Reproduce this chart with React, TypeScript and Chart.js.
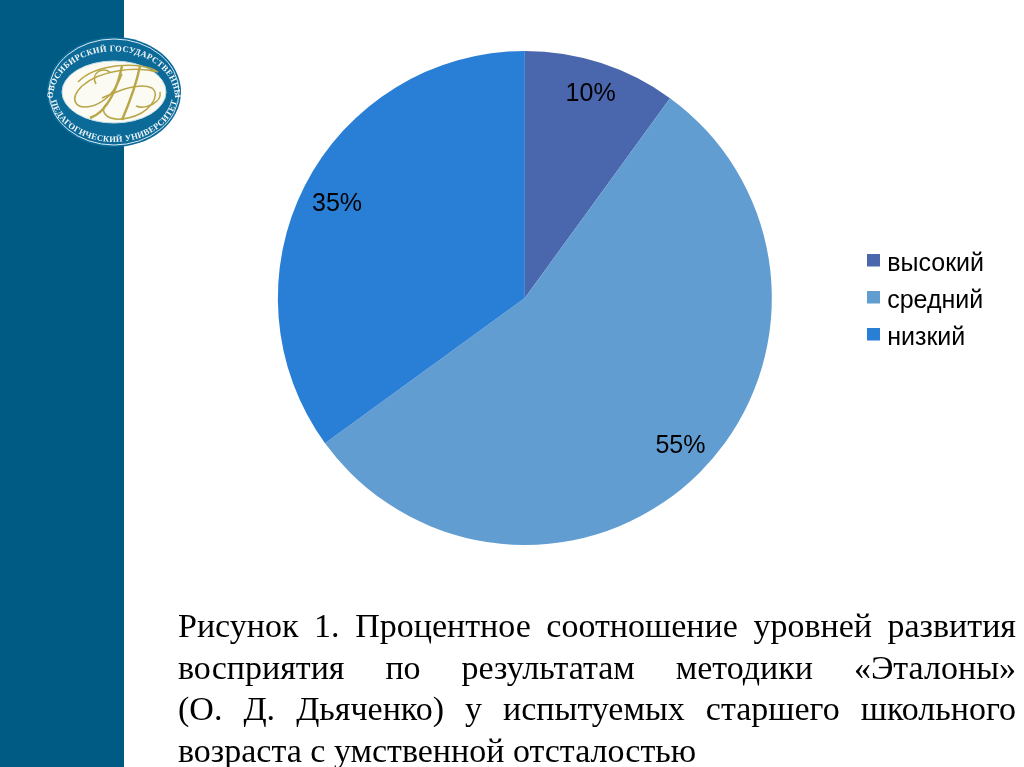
import React, { useEffect, useRef } from "react";
import { Chart, registerables } from "chart.js";

Chart.register(...registerables);

const categories = ["высокий", "средний", "низкий"];
const shares = [10, 55, 35];
const sliceColors = ["#4A66AC", "#629DD1", "#297FD5"];
const captionLines = [
  "Рисунок 1. Процентное соотношение уровней развития",
  "восприятия по результатам методики «Эталоны»",
  "(О. Д. Дьяченко) у испытуемых старшего школьного",
  "возраста с умственной отсталостью",
];

const FONT = "'Liberation Sans', Arial, sans-serif";

function swatch(color: string) {
  const c = document.createElement("canvas");
  c.width = 13;
  c.height = 21;
  const g = c.getContext("2d")!;
  g.fillStyle = color;
  g.fillRect(0, 0, 13, 13);
  return c;
}

const sliceLabels = {
  id: "sliceLabels",
  afterDatasetsDraw(chart: any) {
    const { ctx } = chart;
    const values = chart.data.datasets[0].data;
    const factors = [0.875, 0.862, 0.858];
    const nudgeX = [-1, 5, 1];
    const nudgeY = [2, -2, 2];
    chart.getDatasetMeta(0).data.forEach((arc: any, i: number) => {
      const mid = (arc.startAngle + arc.endAngle) / 2;
      const r = arc.outerRadius * factors[i];
      ctx.save();
      ctx.font = `25px ${FONT}`;
      ctx.fillStyle = "#000";
      ctx.textAlign = "center";
      ctx.textBaseline = "middle";
      ctx.fillText(`${values[i]}%`, arc.x + Math.cos(mid) * r + nudgeX[i], arc.y + Math.sin(mid) * r + nudgeY[i]);
      ctx.restore();
    });
  },
};

function Logo() {
  return (
    <svg width={150} height={124} viewBox="0 0 150 124" style={{ position: "absolute", left: 40, top: 30 }}>
      <defs>
        <path id="arcTop" d="M 13 68 A 60 46 0 0 1 135 68" />
        <path id="arcBottom" d="M 10 62 A 64 50 0 0 0 138 62" />
      </defs>
      <ellipse cx={74} cy={62} rx={67} ry={55} fill="#0B6A98" />
      <ellipse cx={74} cy={62} rx={65} ry={53} fill="none" stroke="#D7EAF2" strokeWidth={1} />
      <ellipse cx={74} cy={62} rx={52} ry={31} fill="#FBFBF3" stroke="#BFDCE8" strokeWidth={1} />
      <text fontFamily="'Liberation Serif', serif" fontSize={8.5} fontWeight="bold" fill="#F2F7FA" letterSpacing={0.3}>
        <textPath href="#arcTop" startOffset="50%" textAnchor="middle">
          НОВОСИБИРСКИЙ ГОСУДАРСТВЕННЫЙ
        </textPath>
      </text>
      <text fontFamily="'Liberation Serif', serif" fontSize={8.5} fontWeight="bold" fill="#F2F7FA" letterSpacing={0.3}>
        <textPath href="#arcBottom" startOffset="50%" textAnchor="middle">
          ПЕДАГОГИЧЕСКИЙ УНИВЕРСИТЕТ
        </textPath>
      </text>
      <g fill="none" stroke="#B8A648" strokeWidth={1.5}>
        <path d="M 38 52 C 55 34 100 30 118 42 C 96 36 60 40 42 56 C 28 70 36 80 52 76 C 66 72 76 60 82 44" />
        <path d="M 82 36 C 78 56 68 82 50 88 M 100 36 C 96 56 88 76 82 90" strokeWidth={2.4} />
        <path d="M 62 68 C 80 60 100 52 112 58 C 122 66 108 84 88 88 C 70 92 58 84 66 74" />
        <path d="M 70 42 C 62 36 50 44 56 54 M 96 76 C 106 80 122 72 120 62" />
      </g>
    </svg>
  );
}

export default function App() {
  const ref = useRef<HTMLCanvasElement>(null);

  useEffect(() => {
    const chart = new Chart(ref.current!, {
      type: "pie",
      data: {
        labels: categories,
        datasets: [{ data: shares, backgroundColor: sliceColors, borderWidth: 0 }],
      },
      options: {
        animation: false,
        responsive: false,
        layout: { padding: { left: 189, top: 51, bottom: 222, right: 30 } },
        plugins: {
          tooltip: { enabled: false },
          legend: {
            position: "right",
            title: { display: true, text: "", font: { size: 4, lineHeight: 1 }, padding: 1 },
            labels: {
              usePointStyle: true,
              pointStyleWidth: 2,
              boxHeight: 13,
              padding: 12,
              color: "#000",
              font: { family: FONT, size: 25 },
              generateLabels: (c: any) =>
                c.data.labels.map((text: string, i: number) => ({
                  text,
                  index: i,
                  fontColor: "#000",
                  pointStyle: swatch(sliceColors[i]),
                })),
            },
          },
        },
      },
      plugins: [sliceLabels],
    });
    return () => chart.destroy();
  }, []);

  return (
    <div style={{ position: "absolute", left: 0, top: 0, width: 1024, height: 767, overflow: "hidden", background: "#fff" }}>
      <div style={{ position: "absolute", left: 0, top: 0, width: 124, height: 767, background: "#005B84" }} />
      <canvas ref={ref} width={1024} height={767} style={{ position: "absolute", left: 0, top: 0 }} />
      <Logo />
      <div
        style={{
          position: "absolute",
          left: 178,
          top: 605,
          width: 838,
          fontFamily: "'Liberation Serif', 'Times New Roman', serif",
          fontSize: 34,
          lineHeight: "41.7px",
          color: "#000",
        }}
      >
        {captionLines.map((line, i) => (
          <div key={i} style={{ textAlign: "justify", textAlignLast: i < captionLines.length - 1 ? "justify" : "left" }}>
            {line}
          </div>
        ))}
      </div>
    </div>
  );
}
